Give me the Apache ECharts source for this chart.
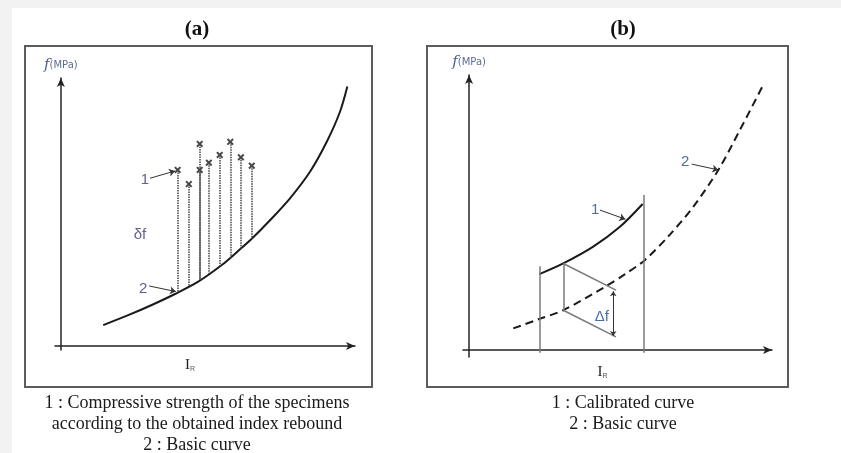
<!DOCTYPE html>
<html>
<head>
<meta charset="utf-8">
<script src="https://cdn.jsdelivr.net/npm/echarts@6/dist/echarts.min.js"></script>
<style>
  html, body { margin: 0; padding: 0; background: #fff; }
  #chart { width: 841px; height: 453px; }
</style>
</head>
<body>
<div id="chart"></div>
<script>
// (a) basic curve f = f(I_R), schematic units 0..100
const basicIR_a = [14.4, 22.9, 30.9, 38.8, 46.7, 54.7, 59.8, 64.9, 71.1, 77.9, 84.7, 90.4, 94.9, 97.4];
const basicF_a = [7.8, 11.5, 15.3, 19.4, 24.0, 30.2, 35.0, 40.0, 46.9, 55.1, 65.0, 76.2, 87.4, 96.8];

// (a) specimens: rebound index, measured strength, basic curve below each one
const specimenIR = [39.7, 43.5, 47.2, 47.2, 50.3, 54.0, 57.6, 61.2, 64.9];
const specimenF = [65.7, 60.4, 75.4, 65.7, 68.4, 71.3, 76.2, 70.4, 67.3];
const specimenBase = [20.3, 22.4, 24.6, 24.6, 26.9, 29.6, 32.7, 36.2, 40.0];

// (b) basic curve (dashed) and calibrated curve (solid)
const basicIR_b = [14.6, 22.9, 31.1, 44.9, 51.5, 58.1, 66.3, 74.0, 82.3, 89.4, 97.1];
const basicF_b = [7.9, 11.2, 14.5, 23.0, 27.6, 32.8, 42.0, 52.1, 65.5, 80.0, 96.4];
const calibIR = [23.2, 31.1, 41.0, 49.8, 57.3];
const calibF = [27.6, 31.5, 37.6, 44.8, 53.1];

// (b) calibration range and the Δf shift
const rangeIR = [23.2, 57.5];
const rangeTop = [30.5, 56.4];
const shiftIR = 31.1;
const shiftF = [31.5, 14.5];      // calibrated / basic at shiftIR
const deltaEndIR = 48.5;
const deltaEndF = [21.8, 4.8];
const deltaArrowIR = 47.6;
const deltaArrowF = [21.4, 5.1];

// callout labels [x, y] and arrows [[x1, y1], [x2, y2]]
const labelsA = [['1', 28.6, 61.9], ['2', 28.0, 21.5], ['δf', 26.9, 41.4]];
const arrowsA = [[[30.3, 62.6], [38.8, 65.3]], [[30.0, 22.4], [39.1, 20.3]]];
const labelsB = [['1', 41.6, 50.9], ['2', 71.3, 68.6], ['Δf', 43.8, 12.1]];
const arrowsB = [[[43.2, 50.9], [51.6, 47.6]], [[73.5, 67.6], [82.3, 65.5]]];

const zip = (xs, ys) => xs.map((x, i) => [x, ys[i]]);
const seg = (a, b) => [{ coord: a }, { coord: b }];

const chart = echarts.init(document.getElementById('chart'));

const axisX = (gridIndex) => ({
  gridIndex,
  type: 'value',
  min: -2,
  max: 100,
  name: '{i|I}{r|R}',
  nameLocation: 'middle',
  nameGap: 8,
  nameTextStyle: {
    padding: [0, 30, 0, 0],
    rich: {
      i: { fontFamily: 'Liberation Serif', fontSize: 15, color: '#222' },
      r: { fontFamily: 'Liberation Sans', fontSize: 7, color: '#555', padding: [7, 0, 0, 0] }
    }
  },
  axisLine: {
    onZero: true,
    symbol: ['none', 'arrow'],
    symbolSize: [6, 9],
    lineStyle: { color: '#222', width: 1.5 }
  },
  axisTick: { show: false },
  axisLabel: { show: false },
  splitLine: { show: false }
});

const axisY = (gridIndex, min) => ({
  gridIndex,
  type: 'value',
  min,
  max: 100,
  name: '{f|f}{u|(MPa)}',
  nameLocation: 'end',
  nameGap: 5,
  nameTextStyle: {
    rich: {
      f: { fontFamily: 'DejaVu Serif', fontStyle: 'italic', fontSize: 15, color: '#4f5e8c' },
      u: { fontFamily: 'DejaVu Sans', fontSize: 10, color: '#5d6c96' }
    }
  },
  axisLine: {
    onZero: true,
    symbol: ['none', 'arrow'],
    symbolSize: [6, 9],
    lineStyle: { color: '#222', width: 1.5 }
  },
  axisTick: { show: false },
  axisLabel: { show: false },
  splitLine: { show: false }
});

// text callouts through markPoint, so they sit on the axes' scales
const callouts = (labels, color) => ({
  symbol: 'circle',
  symbolSize: 0,
  silent: true,
  label: {
    show: true,
    position: 'inside',
    formatter: (p) => p.name,
    color,
    fontFamily: 'Liberation Sans',
    fontSize: 15
  },
  data: labels.map(([name, x, y]) => ({ name, coord: [x, y] }))
});

const arrowLines = (arrows) => ({
  silent: true,
  symbol: ['none', 'arrow'],
  symbolSize: 6,
  label: { show: false },
  lineStyle: { color: '#333', width: 1, type: 'solid' },
  data: arrows.map(([a, b]) => seg(a, b))
});

const captionFont = '18px "Liberation Serif", serif';
const titleFont = 'bold 21px "Liberation Serif", serif';

const option = {
  animation: false,
  backgroundColor: '#fff',
  grid: [
    { left: 55, top: 78, width: 300, height: 272 },
    { left: 463, top: 75, width: 309, height: 282 }
  ],
  xAxis: [axisX(0), axisX(1)],
  yAxis: [axisY(0, -1.5), axisY(1, -2.5)],
  series: [
    {
      name: 'Basic curve (a)',
      type: 'line',
      xAxisIndex: 0,
      yAxisIndex: 0,
      data: zip(basicIR_a, basicF_a),
      smooth: 0.3,
      symbol: 'none',
      lineStyle: { color: '#1a1a1a', width: 2 },
      markPoint: callouts(labelsA, '#66608a'),
      markLine: arrowLines(arrowsA)
    },
    {
      name: 'Specimens',
      type: 'scatter',
      xAxisIndex: 0,
      yAxisIndex: 0,
      data: zip(specimenIR, specimenF),
      symbol: 'path://M0,2L2,0L5,3L8,0L10,2L7,5L10,8L8,10L5,7L2,10L0,8L3,5Z',
      symbolSize: 7,
      itemStyle: { color: '#1a1a1a' },
      z: 4,
      markLine: {
        silent: true,
        symbol: 'none',
        label: { show: false },
        lineStyle: { color: '#444', width: 1.5, type: [1.5, 1] },
        data: specimenIR.map((x, i) => seg([x, specimenF[i]], [x, specimenBase[i]]))
      }
    },
    {
      name: 'Basic curve (b)',
      type: 'line',
      xAxisIndex: 1,
      yAxisIndex: 1,
      data: zip(basicIR_b, basicF_b),
      smooth: 0.3,
      symbol: 'none',
      lineStyle: { color: '#1a1a1a', width: 2, type: [8, 5] },
      markPoint: callouts(labelsB, '#4d6e9e'),
      markLine: arrowLines(arrowsB)
    },
    {
      name: 'Calibrated curve',
      type: 'line',
      xAxisIndex: 1,
      yAxisIndex: 1,
      data: zip(calibIR, calibF),
      smooth: 0.3,
      symbol: 'none',
      lineStyle: { color: '#1a1a1a', width: 2 },
      z: 3,
      markLine: {
        silent: true,
        symbol: 'none',
        label: { show: false },
        lineStyle: { color: '#7a7a7a', width: 1.5, type: 'solid' },
        data: [
          seg([rangeIR[0], -1], [rangeIR[0], rangeTop[0]]),
          seg([rangeIR[1], -1], [rangeIR[1], rangeTop[1]]),
          seg([shiftIR, shiftF[0]], [shiftIR, shiftF[1]]),
          seg([shiftIR, shiftF[0]], [deltaEndIR, deltaEndF[0]]),
          seg([shiftIR, shiftF[1]], [deltaEndIR, deltaEndF[1]])
        ]
      }
    },
    {
      name: 'Delta f',
      type: 'line',
      xAxisIndex: 1,
      yAxisIndex: 1,
      data: [],
      markLine: {
        silent: true,
        symbol: ['arrow', 'arrow'],
        symbolSize: 5,
        label: { show: false },
        lineStyle: { color: '#333', width: 1, type: 'solid' },
        data: [seg([deltaArrowIR, deltaArrowF[0]], [deltaArrowIR, deltaArrowF[1]])]
      }
    }
  ],
  graphic: [
    { type: 'rect', silent: true, shape: { x: 0, y: 0, width: 841, height: 8 }, style: { fill: '#f2f2f2' } },
    { type: 'rect', silent: true, shape: { x: 0, y: 0, width: 12, height: 453 }, style: { fill: '#f2f2f2' } },
    { type: 'rect', silent: true, shape: { x: 25, y: 46, width: 347, height: 341 }, style: { fill: 'none', stroke: '#5c5c5c', lineWidth: 2 } },
    { type: 'rect', silent: true, shape: { x: 427, y: 46, width: 361, height: 341 }, style: { fill: 'none', stroke: '#5c5c5c', lineWidth: 2 } },
    { type: 'text', silent: true, x: 197, y: 30, style: { text: '(a)', font: titleFont, fill: '#111', textAlign: 'center', textVerticalAlign: 'middle' } },
    { type: 'text', silent: true, x: 623, y: 30, style: { text: '(b)', font: titleFont, fill: '#111', textAlign: 'center', textVerticalAlign: 'middle' } },
    { type: 'text', silent: true, x: 197, y: 403, style: { text: '1 : Compressive strength of the specimens', font: captionFont, fill: '#1a1a1a', textAlign: 'center', textVerticalAlign: 'middle' } },
    { type: 'text', silent: true, x: 197, y: 424, style: { text: 'according to the obtained index rebound', font: captionFont, fill: '#1a1a1a', textAlign: 'center', textVerticalAlign: 'middle' } },
    { type: 'text', silent: true, x: 197, y: 445, style: { text: '2 : Basic curve', font: captionFont, fill: '#1a1a1a', textAlign: 'center', textVerticalAlign: 'middle' } },
    { type: 'text', silent: true, x: 623, y: 403, style: { text: '1 : Calibrated curve', font: captionFont, fill: '#1a1a1a', textAlign: 'center', textVerticalAlign: 'middle' } },
    { type: 'text', silent: true, x: 623, y: 424, style: { text: '2 : Basic curve', font: captionFont, fill: '#1a1a1a', textAlign: 'center', textVerticalAlign: 'middle' } }
  ]
};

chart.setOption(option);
</script>
</body>
</html>
